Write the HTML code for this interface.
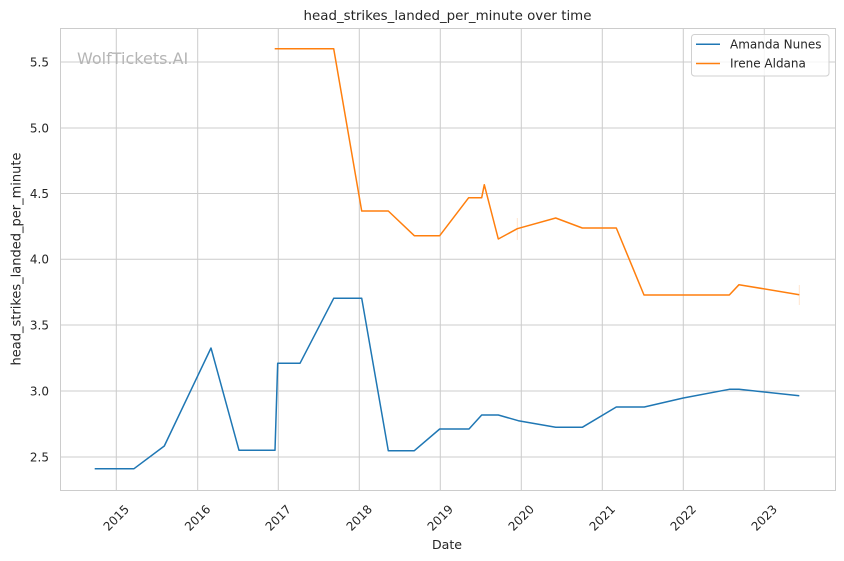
<!DOCTYPE html>
<html>
<head>
<meta charset="utf-8">
<style>
html,body{margin:0;padding:0;background:#fff;}
svg{display:block;}
text{font-family:"DejaVu Sans","Liberation Sans",sans-serif;fill:#262626;}
</style>
</head>
<body>
<svg width="844" height="561" viewBox="0 0 844 561" xmlns="http://www.w3.org/2000/svg">
<rect x="0" y="0" width="844" height="561" fill="#fff"/>
<!-- grid -->
<g stroke="#cccccc" stroke-width="1" fill="none">
<line x1="116.3" y1="28" x2="116.3" y2="490.5"/>
<line x1="197.7" y1="28" x2="197.7" y2="490.5"/>
<line x1="278.3" y1="28" x2="278.3" y2="490.5"/>
<line x1="359.3" y1="28" x2="359.3" y2="490.5"/>
<line x1="440.3" y1="28" x2="440.3" y2="490.5"/>
<line x1="521.3" y1="28" x2="521.3" y2="490.5"/>
<line x1="602.3" y1="28" x2="602.3" y2="490.5"/>
<line x1="683.3" y1="28" x2="683.3" y2="490.5"/>
<line x1="764.3" y1="28" x2="764.3" y2="490.5"/>
<line x1="60" y1="62" x2="835.5" y2="62"/>
<line x1="60" y1="128" x2="835.5" y2="128"/>
<line x1="60" y1="193.5" x2="835.5" y2="193.5"/>
<line x1="60" y1="259.3" x2="835.5" y2="259.3"/>
<line x1="60" y1="325" x2="835.5" y2="325"/>
<line x1="60" y1="391" x2="835.5" y2="391"/>
<line x1="60" y1="457" x2="835.5" y2="457"/>
<rect x="60.5" y="28.5" width="775" height="462"/>
</g>
<!-- watermark -->
<text x="77" y="64" font-size="16" style="fill:#b5b5b5">WolfTickets.AI</text>
<!-- faint CI lines -->
<line x1="517.3" y1="218" x2="517.3" y2="240" stroke="#ff7f0e" stroke-opacity="0.2" stroke-width="1"/>
<line x1="799.3" y1="285" x2="799.3" y2="305" stroke="#ff7f0e" stroke-opacity="0.2" stroke-width="1"/>
<!-- series -->
<path d="M94.7,468.7 L134,468.7 L164.3,446 L211,348 L239,450.3 L275,450.3 L277.7,363.3 L300,363.3 L333.7,298.3 L361.7,298.3 L388.3,450.7 L414.3,450.7 L439.7,429 L469,429 L481.7,415 L498.3,415 L518.3,420.7 L555.7,427.3 L582.3,427.3 L616.3,407 L644.3,407 L683.3,398 L729.3,389.3 L739,389.3 L799.3,395.7" fill="none" stroke="#1f77b4" stroke-width="1.5" stroke-linejoin="round"/>
<path d="M274.7,48.7 L333.7,48.7 L361.7,211 L388.3,211 L414.3,235.7 L439.7,235.7 L468.7,197.7 L481.7,197.7 L484.3,184.7 L498.3,239 L517.3,228.7 L555.7,218 L582.3,228 L616.3,228 L644,295 L729.3,295 L739,284.7 L799.3,294.7" fill="none" stroke="#ff7f0e" stroke-width="1.5" stroke-linejoin="round"/>
<!-- y ticks -->
<g font-size="12" text-anchor="end">
<text x="49" y="66.3">5.5</text>
<text x="49" y="132.3">5.0</text>
<text x="49" y="197.8">4.5</text>
<text x="49" y="263.6">4.0</text>
<text x="49" y="329.3">3.5</text>
<text x="49" y="395.3">3.0</text>
<text x="49" y="461.3">2.5</text>
</g>
<!-- x ticks -->
<g font-size="12" text-anchor="middle" dominant-baseline="central">
<text transform="translate(116.3,518) rotate(-45)">2015</text>
<text transform="translate(197.7,518) rotate(-45)">2016</text>
<text transform="translate(278.3,518) rotate(-45)">2017</text>
<text transform="translate(359.3,518) rotate(-45)">2018</text>
<text transform="translate(440.3,518) rotate(-45)">2019</text>
<text transform="translate(521.3,518) rotate(-45)">2020</text>
<text transform="translate(602.3,518) rotate(-45)">2021</text>
<text transform="translate(683.3,518) rotate(-45)">2022</text>
<text transform="translate(764.3,518) rotate(-45)">2023</text>
</g>
<!-- labels -->
<text x="447.5" y="19.8" font-size="13.4" text-anchor="middle">head_strikes_landed_per_minute over time</text>
<text x="447" y="549" font-size="12.6" text-anchor="middle">Date</text>
<text transform="translate(20.5,259) rotate(-90)" font-size="13" text-anchor="middle">head_strikes_landed_per_minute</text>
<!-- legend -->
<rect x="691.5" y="34.5" width="137.5" height="41.5" rx="3" ry="3" fill="#fff" fill-opacity="0.8" stroke="#d0d0d0" stroke-width="1"/>
<line x1="696" y1="44.3" x2="720" y2="44.3" stroke="#1f77b4" stroke-width="1.5"/>
<line x1="696" y1="63.5" x2="720" y2="63.5" stroke="#ff7f0e" stroke-width="1.5"/>
<text x="730" y="48.5" font-size="12">Amanda Nunes</text>
<text x="730" y="67.7" font-size="12">Irene Aldana</text>
</svg>
</body>
</html>
